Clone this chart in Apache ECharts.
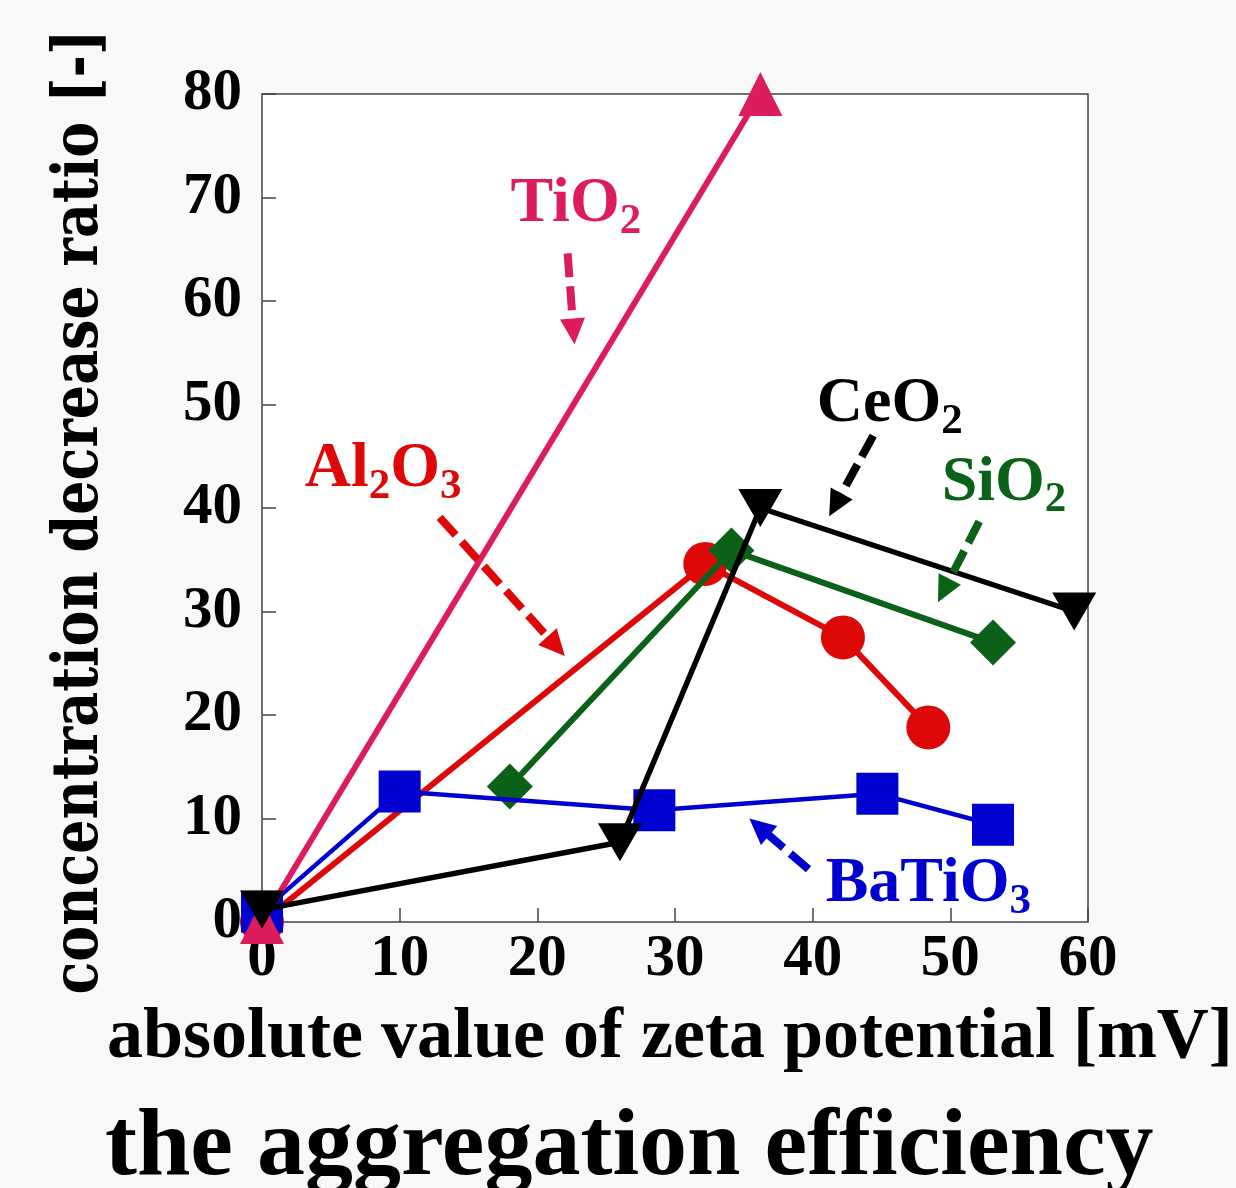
<!DOCTYPE html>
<html>
<head>
<meta charset="utf-8">
<script src="https://cdn.jsdelivr.net/npm/echarts@6/dist/echarts.min.js"></script>
<style>
  html, body { margin: 0; padding: 0; background: #f8f8f8; }
  #main { width: 1236px; height: 1188px; }
</style>
</head>
<body>
<div id="main"></div>
<script>
// values
var tio2 = [[0, 0], [36.2, 80]];
var al2o3 = [[0, 0], [32.2, 34.6], [42.2, 27.5], [48.4, 18.8]];
var sio2 = [[18, 13.1], [34.1, 35.9], [53.1, 27]];
var ceo2 = [[0, 1.2], [26, 7.7], [36.2, 40], [59, 30]];
var batio3 = [[0, 1], [10, 12.6], [28.5, 10.8], [44.7, 12.4], [53.1, 9.4]];

var xTicks = [0, 10, 20, 30, 40, 50, 60];
var yTicks = [0, 10, 20, 30, 40, 50, 60, 70, 80];

// annotation arrows [from, to] and label centres, in data units
var tio2Arrow = [[22.2, 64.6], [22.7, 55.8]];
var al2o3Arrow = [[12.9, 39.1], [22.0, 25.7]];
var ceo2Arrow = [[44.4, 47], [41.2, 39.2]];
var sio2Arrow = [[52.1, 38.7], [49.1, 30.9]];
var batio3Arrow = [[39.7, 5.1], [35.4, 10]];

var tio2Label = [22.8, 69.3];
var al2o3Label = [8.8, 43.7];
var ceo2Label = [45.6, 50];
var sio2Label = [53.9, 42.4];
var batio3Label = [48.4, 3.6];

var serif = '"Liberation Serif", "Times New Roman", serif';
var C_TIO2 = '#dc1c5e', C_AL = '#df0808', C_SI = '#0b6118', C_BA = '#0000d0', C_CE = '#000000';

var chart = echarts.init(document.getElementById('main'));

function line(name, data, color, symbol, size, width, z) {
  return {
    name: name,
    type: 'line',
    data: data,
    z: z,
    symbol: symbol,
    symbolSize: size,
    itemStyle: { color: color },
    lineStyle: { color: color, width: width },
    emphasis: { disabled: true }
  };
}

var tickFont = { fontFamily: serif, fontWeight: 'bold', fontSize: 59, color: '#000' };

chart.setOption({
  backgroundColor: '#f8f8f8',
  animation: false,
  grid: {
    left: 262, right: 148, top: 94, bottom: 266,
    show: true, backgroundColor: '#ffffff', borderColor: '#444', borderWidth: 1.5
  },
  xAxis: {
    type: 'value', min: 0, max: 60, interval: 10,
    axisLine: { show: false },
    axisTick: { show: true, inside: true, length: 14, lineStyle: { color: '#444', width: 1.5 } },
    splitLine: { show: false },
    axisLabel: Object.assign({
      margin: 8,
      formatter: function (v) { return xTicks.indexOf(v) >= 0 ? String(v) : ''; }
    }, tickFont)
  },
  yAxis: {
    type: 'value', min: 0, max: 80, interval: 10,
    axisLine: { show: false },
    axisTick: { show: true, inside: true, length: 14, lineStyle: { color: '#444', width: 1.5 } },
    splitLine: { show: false },
    axisLabel: Object.assign({
      margin: 20,
      formatter: function (v) { return yTicks.indexOf(v) >= 0 ? String(v) : ''; }
    }, tickFont)
  },
  series: [
    line('Al2O3', al2o3, C_AL, 'circle', 44, 6, 2),
    line('SiO2', sio2, C_SI, 'diamond', 46, 6, 3),
    line('BaTiO3', batio3, C_BA, 'rect', 42, 4.5, 4),
    line('TiO2', tio2, C_TIO2, 'triangle', 44, 6, 5),
    line('CeO2', ceo2, C_CE, 'path://M0,0 L10,0 L5,9 Z', [44, 38], 5.5, 6)
  ]
});

// ---- annotations, placed through the axes ----
function px(p) { return chart.convertToPixel({ gridIndex: 0 }, p); }

var measure = document.createElement('canvas').getContext('2d');
function textWidth(t, font) { measure.font = font; return measure.measureText(t).width; }

var gfx = [];

function arrow(pts, color) {
  var a = px(pts[0]), b = px(pts[1]);
  var dx = b[0] - a[0], dy = b[1] - a[1];
  var len = Math.sqrt(dx * dx + dy * dy);
  var ux = dx / len, uy = dy / len;
  var head = 26, half = 12.5;
  var bx = b[0] - ux * head, by = b[1] - uy * head;
  gfx.push({
    type: 'line', silent: true, z: 20,
    shape: { x1: a[0], y1: a[1], x2: bx + ux * 2, y2: by + uy * 2 },
    style: { stroke: color, lineWidth: 8, lineDash: [24, 9] }
  });
  gfx.push({
    type: 'polygon', silent: true, z: 20,
    shape: { points: [[b[0], b[1]], [bx - uy * half, by + ux * half], [bx + uy * half, by - ux * half]] },
    style: { fill: color }
  });
}

function tag(pos, parts, color) {
  var c = px(pos);
  var mainFont = 'bold 64px ' + serif, subFont = 'bold 43px ' + serif;
  var total = 0;
  parts.forEach(function (p) { total += textWidth(p[0], p[1] ? subFont : mainFont); });
  var x = c[0] - total / 2;
  parts.forEach(function (p) {
    var f = p[1] ? subFont : mainFont;
    gfx.push({
      type: 'text', silent: true, z: 30,
      x: x, y: c[1] + (p[1] ? 17 : 0),
      style: { text: p[0], font: f, fill: color, align: 'left', verticalAlign: 'middle' }
    });
    x += textWidth(p[0], f);
  });
}

arrow(tio2Arrow, C_TIO2);
arrow(al2o3Arrow, C_AL);
arrow(ceo2Arrow, C_CE);
arrow(sio2Arrow, C_SI);
arrow(batio3Arrow, C_BA);

tag(tio2Label, [['TiO'], ['2', 1]], C_TIO2);
tag(al2o3Label, [['Al'], ['2', 1], ['O'], ['3', 1]], C_AL);
tag(ceo2Label, [['CeO'], ['2', 1]], C_CE);
tag(sio2Label, [['SiO'], ['2', 1]], C_SI);
tag(batio3Label, [['BaTiO'], ['3', 1]], C_BA);

// axis titles and caption
var yName = 'concentration decrease ratio [-]';
var yFont = 'bold 64px "DejaVu Serif", serif';
var yScale = 965 / textWidth(yName, yFont);
gfx.push({
  type: 'text', silent: true,
  x: 80, y: 512, rotation: Math.PI / 2, scaleX: yScale,
  style: { text: yName, font: yFont, fill: '#000', align: 'center', verticalAlign: 'middle' }
});
gfx.push({
  type: 'text', silent: true,
  x: 107, y: 1038,
  style: { text: 'absolute value of zeta potential [mV]', font: 'bold 72px ' + serif, fill: '#000', align: 'left', verticalAlign: 'middle' }
});
gfx.push({
  type: 'text', silent: true,
  x: 105, y: 1149,
  style: { text: 'the aggregation efficiency', font: 'bold 96px ' + serif, fill: '#000', align: 'left', verticalAlign: 'middle' }
});

chart.setOption({ graphic: gfx });
</script>
</body>
</html>
